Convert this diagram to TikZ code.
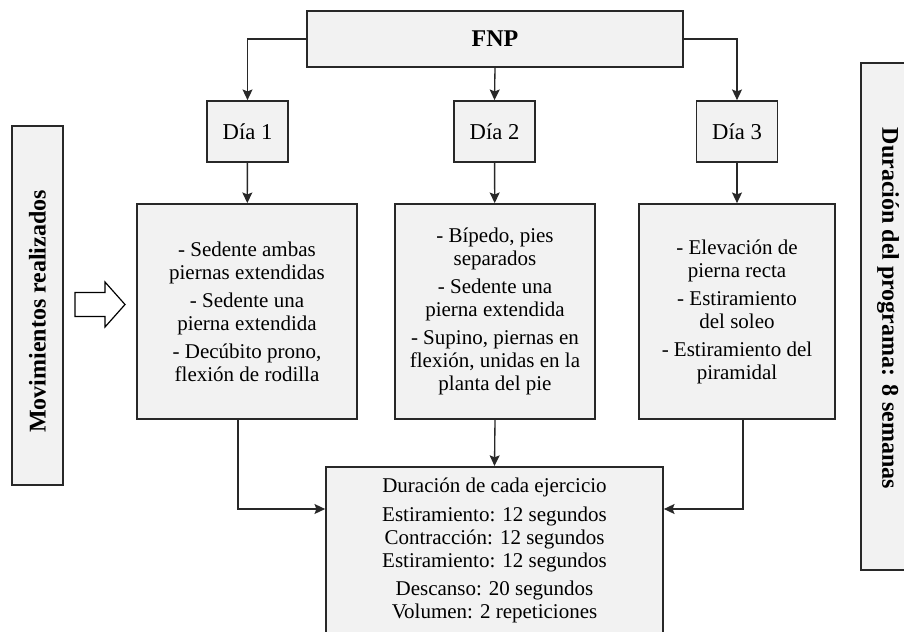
\documentclass[tikz,border=0pt]{standalone}
\usepackage{fontspec}
\setmainfont{Liberation Serif}
\usetikzlibrary{arrows.meta}
\definecolor{boxgray}{HTML}{F2F2F2}
\definecolor{edgegray}{HTML}{282828}
\tikzset{bx/.style = {rectangle, draw=edgegray, fill=boxgray, line width=1.3pt, inner sep=0pt, align=center, font=\fontsize{15.75}{17.25}\selectfont},
         dy/.style = {bx, minimum width=60.75pt, minimum height=45.75pt, font=\fontsize{17}{20}\selectfont},
         mv/.style = {bx, minimum height=161.25pt},
         lb/.style = {bx, font=\fontsize{18}{20}\selectfont\bfseries},
         ln/.style = {->, line width=1pt, draw=edgegray}}

\begin{document}
\begin{tikzpicture}[x=0.75pt, y=-0.75pt, >={Stealth[length=8pt,width=7.5pt,inset=1.5pt]}]
    \useasboundingbox (0,0) rectangle (904,632);
    \clip (0,0) rectangle (904,632);
    \node[lb, minimum width=282pt, minimum height=42pt] (fnp) at (495,39) {FNP};
    \node[dy] (d1) at (247.5,131.5) {Día 1};
    \node[dy] (d2) at (494.5,131.5) {Día 2};
    \node[dy] (d3) at (737,131.5) {Día 3};
    \node[mv, minimum width=165pt] (m1) at (247,311.5)
        {- Sedente ambas\\piernas extendidas\\[3.75pt]- Sedente una\\pierna extendida\\[3.75pt]- Decúbito prono,\\flexión de rodilla};
    \node[mv, minimum width=150pt] (m2) at (495,311.5)
        {- Bípedo, pies\\separados\\[3.75pt]- Sedente una\\pierna extendida\\[3.75pt]- Supino, piernas en\\flexión, unidas en la\\planta del pie};
    \node[mv, minimum width=147pt] (m3) at (737,311.5)
        {- Elevación de\\pierna recta\\[3.75pt]- Estiramiento\\del soleo\\[3.75pt]- Estiramiento del\\piramidal};
    \node[bx, minimum width=252.75pt, inner ysep=8.5pt, anchor=north] (dur) at (494.5,466)
        {Duración de cada ejercicio\\[4pt]Estiramiento: 12 segundos\\Contracción: 12 segundos\\Estiramiento: 12 segundos\\[4pt]Descanso: 20 segundos\\Volumen: 2 repeticiones};
    \node[lb, rotate=90, minimum width=269.25pt, minimum height=38.25pt] (mov) at (37.5,305.5) {Movimientos realizados\hspace{9pt}};
    \node[lb, rotate=-90, minimum width=380.25pt, minimum height=40.5pt] (prog) at (888,316.5) {Duración del programa: 8 semanas\hspace{12pt}};
    \coordinate (jl) at (238,509);
    \coordinate (jr) at (743,509);
    \draw[ln] (fnp.west) -| (d1.north);
    \draw[ln] (fnp.south) -- (d2.north);
    \draw[ln] (fnp.east) -| (d3.north);
    \draw[ln] (d1) -- (m1);
    \draw[ln] (d2) -- (m2);
    \draw[ln] (d3) -- (m3);
    \draw[ln] (m1.south -| jl) |- (dur.west |- jl);
    \draw[ln] (m2.south) -- (dur.north);
    \draw[ln] (m3.south -| jr) |- (dur.east |- jr);
    \draw[line width=0.9pt, fill=white] (75,292.5) -- (105,292.5) -- (105,282) -- (125,304.5)
        -- (105,327) -- (105,316.5) -- (75,316.5) -- cycle;
\end{tikzpicture}
\end{document}
